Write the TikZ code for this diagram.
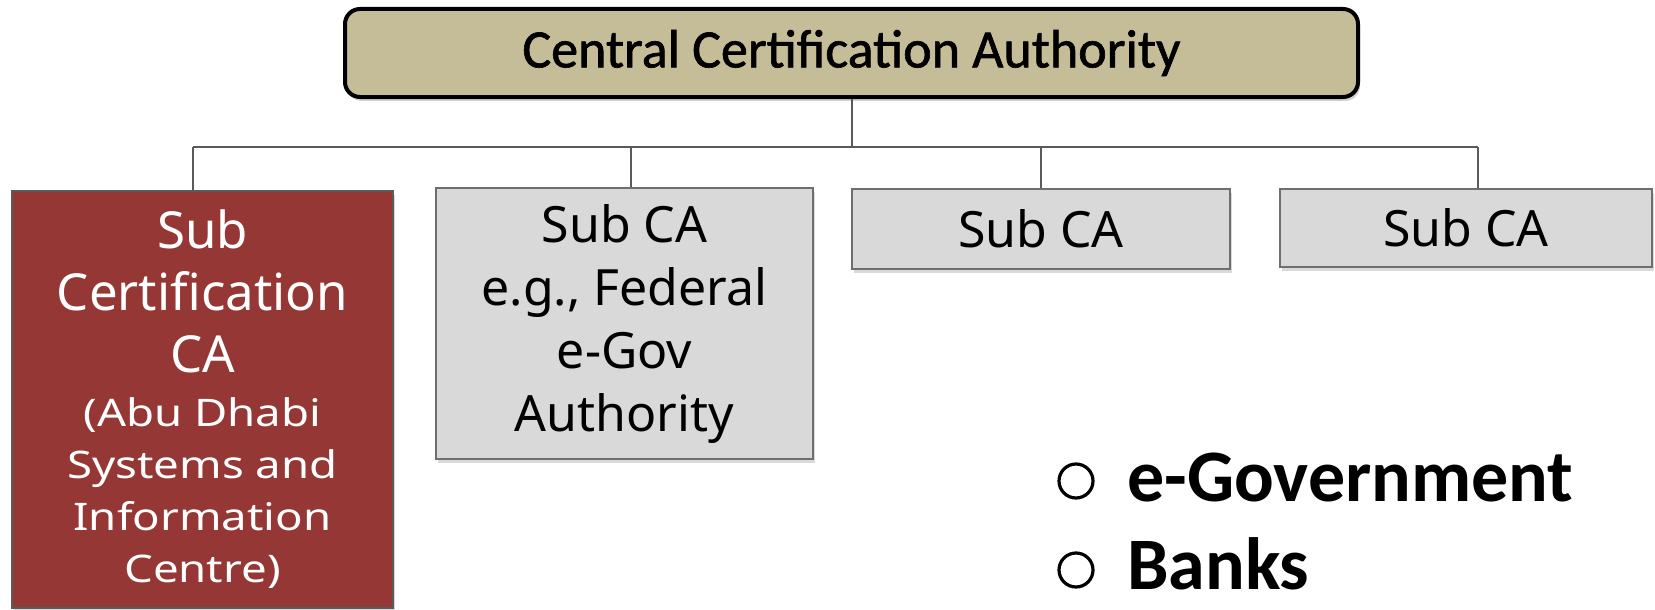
\documentclass[tikz,border=0pt]{standalone}
\usepackage{fontspec}
\setmainfont{Noto Sans}
\newfontfamily\topfont[FakeBold=1.2]{Carlito}
\newfontfamily\bulfont{Carlito}
\newfontfamily\smallboxfont[FakeStretch=1.2]{Noto Sans}
\usetikzlibrary{shadows}
\definecolor{topfill}{RGB}{197,189,152}
\definecolor{redfill}{RGB}{149,55,52}
\definecolor{grayfill}{RGB}{217,217,217}
\definecolor{linegray}{RGB}{90,90,90}
\definecolor{bordergray}{RGB}{110,110,110}
\tikzset{
  topbox/.style={draw=black, line width=4pt, fill=topfill, rounded corners=15pt,
    inner sep=0pt, drop shadow={shadow xshift=2pt, shadow yshift=-4pt, opacity=0.35},
    font=\topfont\fontsize{54}{60}\selectfont},
  subbox/.style={draw=bordergray, line width=2pt, fill=grayfill, inner sep=0pt,
    drop shadow={shadow xshift=2pt, shadow yshift=-4pt, opacity=0.3},
    align=center, font=\fontsize{50}{63}\selectfont, text=black},
  redbox/.style={subbox, fill=redfill, draw=linegray, text=white,
    font=\fontsize{51}{62}\selectfont},
  conn/.style={draw=linegray, line width=2pt},
  bulcirc/.style={circle, draw=black, line width=3.2pt, inner sep=0pt, minimum size=34pt},
  bultext/.style={anchor=base west, inner sep=0pt, font=\bulfont\bfseries\fontsize{74}{80}\selectfont}
}
\begin{document}
\begin{tikzpicture}[x=1pt, y=-1pt]
\useasboundingbox (0,0) rectangle (1655,610);
\node[topbox, minimum width=1013pt, minimum height=88pt] (top) at (851.5,53) {Central Certification Authority};
\node[redbox, minimum width=381pt, minimum height=417pt] (red) at (202.5,399.5)
  {Sub\\Certification\\CA\\[-8pt]{\smallboxfont\fontsize{38}{52}\selectfont (Abu Dhabi}\\[-10pt]{\smallboxfont\fontsize{38}{52}\selectfont Systems and}\\[-10pt]{\smallboxfont\fontsize{38}{52}\selectfont Information}\\[-10pt]{\smallboxfont\fontsize{38}{52}\selectfont Centre)}};
\node[subbox, minimum width=377pt, minimum height=271pt] (b2) at (624.5,323.5) {Sub CA\\e.g., Federal\\e-Gov\\Authority};
\node[subbox, minimum width=378pt, minimum height=80pt] (b3) at (1041,229) {Sub CA};
\node[subbox, minimum width=372pt, minimum height=78pt] (b4) at (1466,228) {Sub CA};
\coordinate (hl) at (193,147);
\coordinate (hr) at (1478,147);
\coordinate (d2) at (631,147);
\draw[conn] (top.south) -- (top.south |- hl);
\draw[conn] (hl) -- (hr);
\draw[conn] (hl) -- (hl |- red.north);
\draw[conn] (d2) -- (d2 |- b2.north);
\draw[conn] (b3.north |- hl) -- (b3.north);
\draw[conn] (hr) -- (hr |- b4.north);
\node[bulcirc] (c1) at (1076,481) {};
\node[bulcirc] (c2) at (1076,570) {};
\node[bultext] (t1) at (1127,501) {e-Government};
\node[bultext] (t2) at (1127,589) {Banks};
\end{tikzpicture}
\end{document}
